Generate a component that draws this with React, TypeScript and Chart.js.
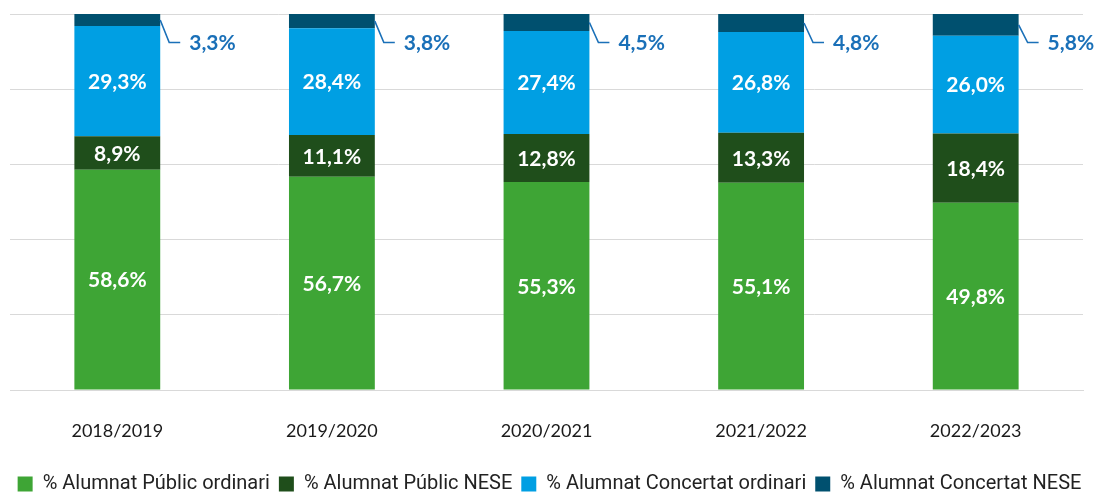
import React, { useEffect, useRef } from "react";
import { Chart, registerables } from "chart.js";

Chart.register(...registerables);

const categories = ["2018/2019", "2019/2020", "2020/2021", "2021/2022", "2022/2023"];
const publicOrdinari = [58.6, 56.7, 55.3, 55.1, 49.8];
const publicNese = [8.9, 11.1, 12.8, 13.3, 18.4];
const concertatOrdinari = [29.3, 28.4, 27.4, 26.8, 26.0];
const concertatNese = [3.3, 3.8, 4.5, 4.8, 5.8];
const seriesLabels = [
  "% Alumnat Públic ordinari",
  "% Alumnat Públic NESE",
  "% Alumnat Concertat ordinari",
  "% Alumnat Concertat NESE",
];
const seriesColors = ["#3ea535", "#1f4e1b", "#009fe3", "#00506f"];
const calloutColor = "#1a70b8";

const fmt = (v: number) => v.toFixed(1).replace(".", ",") + "%";

const labelPlugin = {
  id: "segLabels",
  afterDatasetsDraw(chart: any) {
    const ctx = chart.ctx;
    const area = chart.chartArea;
    ctx.save();
    chart.data.datasets.forEach((ds: any, di: number) => {
      const meta = chart.getDatasetMeta(di);
      meta.data.forEach((bar: any, i: number) => {
        const v = ds.data[i];
        const top = Math.max(bar.y, area.top);
        const mid = (top + bar.base) / 2;
        if (di < 3) {
          ctx.fillStyle = "#ffffff";
          ctx.font = "bold 21px Lato";
          ctx.textAlign = "center";
          ctx.textBaseline = "middle";
          ctx.fillText(fmt(v), bar.x, mid + 1);
        } else {
          const x0 = bar.x + bar.width / 2;
          const elbowY = area.top + 28.5;
          ctx.strokeStyle = calloutColor;
          ctx.lineWidth = 1.6;
          ctx.beginPath();
          ctx.moveTo(x0, mid);
          ctx.lineTo(x0 + 9, elbowY);
          ctx.lineTo(x0 + 20, elbowY);
          ctx.stroke();
          ctx.fillStyle = calloutColor;
          ctx.font = "bold 21px Lato";
          ctx.textAlign = "left";
          ctx.textBaseline = "middle";
          ctx.fillText(fmt(v), x0 + 29, elbowY + 1);
        }
      });
    });
    ctx.restore();
  },
};

export default function App() {
  const ref = useRef<HTMLCanvasElement>(null);
  useEffect(() => {
    document.body.style.margin = "0";
    const seriesData = [publicOrdinari, publicNese, concertatOrdinari, concertatNese];
    const chart = new Chart(ref.current!, {
      type: "bar",
      data: {
        labels: categories,
        datasets: seriesData.map((d, i) => ({
          label: seriesLabels[i],
          data: d,
          backgroundColor: seriesColors[i],
          borderWidth: 0,
          barPercentage: 0.4,
          categoryPercentage: 1,
        })),
      },
      options: {
        animation: false,
        responsive: true,
        maintainAspectRatio: false,
        layout: { padding: { left: 0, right: 0, top: 14, bottom: 0 } },
        plugins: {
          legend: {
            position: "bottom",
            labels: {
              boxWidth: 15,
              boxHeight: 15,
              padding: 9,
              color: "#222222",
              font: { family: "Roboto", size: 20 },
            },
          },
          tooltip: { enabled: false },
        },
        scales: {
          x: {
            stacked: true,
            grid: { display: false, drawTicks: false },
            border: { display: true, color: "#d9d9d9", width: 1 },
            ticks: {
              color: "#1a1a1a",
              font: { family: "Lato", size: 18 },
              padding: 30,
            },
            afterFit: (scale: any) => {
              scale.height = 75;
            },
          },
          y: {
            stacked: true,
            min: 0,
            max: 100,
            ticks: { display: false, stepSize: 20 },
            grid: { color: "#d9d9d9", lineWidth: 1, drawTicks: false },
            border: { display: false },
            afterFit: (scale: any) => {
              scale.width = 10;
            },
          },
          yRight: {
            position: "right",
            min: 0,
            max: 100,
            ticks: { display: false },
            grid: { display: false, drawTicks: false },
            border: { display: false },
            afterFit: (scale: any) => {
              scale.width = 16;
            },
          },
        },
      },
      plugins: [labelPlugin],
    });
    return () => chart.destroy();
  }, []);
  return (
    <div style={{ width: 1099, height: 495, overflow: "hidden" }}>
      <div style={{ width: 1099, height: 504, position: "relative" }}>
        <canvas ref={ref} />
      </div>
    </div>
  );
}
